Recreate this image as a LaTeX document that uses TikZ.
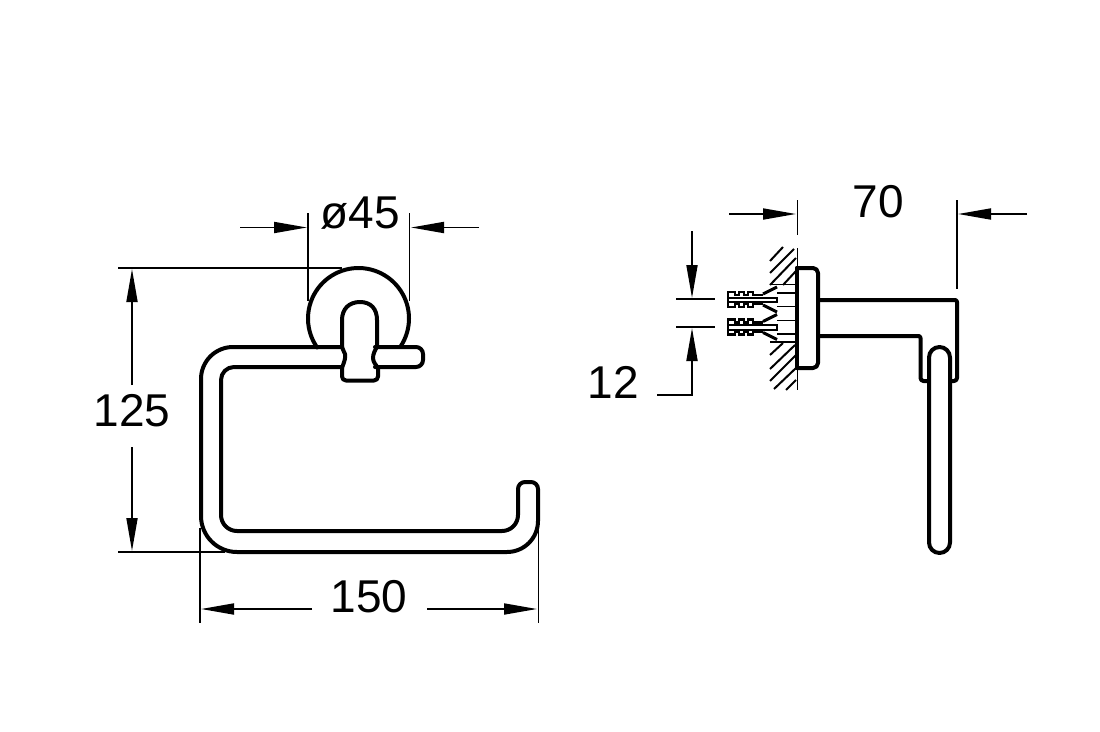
\documentclass[tikz,border=0pt]{standalone}
\usepackage{fontspec}
\setmainfont{Liberation Sans}
\usetikzlibrary{arrows.meta}
\tikzset{
  profile/.style={line width=4pt,line join=round,line cap=round},
  dimline/.style={line width=1.8pt},
  thinpart/.style={line width=1.8pt},
  hatchline/.style={line width=2pt},
  dimarrow/.style={dimline,-{Triangle[length=33pt,width=11pt]}},
  dimtext/.style={inner sep=0pt,font=\fontsize{46}{46}\selectfont},
}
\begin{document}
\begin{tikzpicture}[x=1pt,y=-1pt]
\useasboundingbox (0,0) rectangle (1100,731);
% front view
\draw[profile,domain=-34:215,samples=60,smooth] plot ({358.5+50.5*cos(\x)},{318.5-50.5*sin(\x)});
\draw[profile] (342,347) [rounded corners=32pt] -- (201,347) [rounded corners=36pt] -- (201,552) [rounded corners=31pt] -- (538,552) [rounded corners=7pt] -- (538,482) -- (518,482) [rounded corners=16pt] -- (518,531) -- (221,531) [rounded corners=13pt] -- (221,367) [sharp corners] -- (342,367);
\draw[profile] (375,347) [rounded corners=7pt] -- (423,347) -- (423,367) [sharp corners] -- (375,367);
\draw[profile,rounded corners=4pt] (342,368) -- (342,380.5) -- (378,380.5) -- (378,368);
\draw[profile] (342,368) .. controls (344,362) and (346,358) .. (345,354) .. controls (344,351) and (342,349) .. (342,345) -- (342,320) .. controls (342,309) and (349,302) .. (360,302) .. controls (371,302) and (377,309) .. (377,320) -- (377,347) .. controls (375,350) and (373,354) .. (373,358) .. controls (373,362) and (376,365) .. (378,368);
% side view
\draw[profile] (797,268) -- (797,368);
\draw[profile,rounded corners=5pt] (797,268) -- (818,268) -- (818,368) -- (797,368);
\draw[profile] (818,300) [rounded corners=2pt] -- (957,300) [rounded corners=3pt] -- (957,381) [sharp corners] -- (950,381);
\draw[profile] (818,336) [rounded corners=2pt] -- (920.5,336) [rounded corners=3pt] -- (920.5,381) [sharp corners] -- (929,381);
\draw[profile,fill=white,rounded corners=10.5pt] (929,347) rectangle (950,553);
% wall
\draw[dimline] (797.5,248) -- (797.5,390);
\foreach \a/\b/\c/\d in {770/261/783/247, 770/273/794/249, 770/285/796/258, 783/285/796/271, 770/355/783/343, 770/369/795/345, 770/381/796/355, 774/389/796/368, 786/390/796/380}
  \draw[hatchline] (\a,\b) -- (\c,\d);
\draw[thinpart] (770,284.5) -- (796,284.5);
\draw[thinpart] (770,342) -- (796,342);
% anchors
\foreach \c in {300,327.5} {
  \draw[line width=2.4pt] (728,\c-3) -- (728,\c-8) -- (735,\c-8) -- (735,\c-5) -- (739,\c-5) -- (739,\c-8) -- (744,\c-8) -- (744,\c-5) -- (748,\c-5) -- (748,\c-8) -- (753,\c-8) -- (753,\c-5) -- (763,\c-5);
  \draw[line width=2.4pt] (728,\c+3) -- (728,\c+7) -- (735,\c+7) -- (735,\c+4) -- (739,\c+4) -- (739,\c+7) -- (744,\c+7) -- (744,\c+4) -- (748,\c+4) -- (748,\c+7) -- (753,\c+7) -- (753,\c+4) -- (763,\c+4);
  \draw[line width=3pt] (763,\c-6) -- (777,\c-13);
  \draw[line width=3pt] (763,\c+5) -- (777,\c+12);
  \draw[line width=2pt] (728,\c-2.5) -- (777,\c-2.5) -- (777,\c+2) -- (728,\c+2) -- cycle;
  \draw[thinpart] (777,\c-7) -- (796,\c-7);
  \draw[thinpart] (777,\c+6.5) -- (796,\c+6.5);
}
% dimension: diameter
\coordinate (dA) at (240,227.5); \coordinate (dB) at (307,227.5);
\coordinate (dC) at (479,227.5); \coordinate (dD) at (411,227.5);
\draw[dimline] (308,213) -- (308,301);
\draw[dimline] (409.5,213) -- (409.5,301);
\draw[dimarrow] (dA) -- (dB);
\draw[dimarrow] (dC) -- (dD);
\node[dimtext] (t45) at (360,213) {ø45};
% dimension: 125
\draw[dimline] (118,268) -- (342,268);
\draw[dimline] (118,552) -- (225,552);
\coordinate (hA) at (132,385); \coordinate (hB) at (132,269);
\coordinate (hC) at (132,447); \coordinate (hD) at (132,551);
\draw[dimarrow] (hA) -- (hB);
\draw[dimarrow] (hC) -- (hD);
\node[dimtext] (t125) at (132,411) {125};
% dimension: 150
\draw[dimline] (200,528) -- (200,623);
\draw[dimline] (538.5,528) -- (538.5,623);
\coordinate (wA) at (312,609); \coordinate (wB) at (201,609);
\coordinate (wC) at (427,609); \coordinate (wD) at (537,609);
\draw[dimarrow] (wA) -- (wB);
\draw[dimarrow] (wC) -- (wD);
\node[dimtext] (t150) at (369,597) {150};
% dimension: 70
\draw[dimline] (797.5,200) -- (797.5,235);
\draw[dimline] (957,200) -- (957,289);
\coordinate (sA) at (729,214); \coordinate (sB) at (796,214);
\coordinate (sC) at (1027,214); \coordinate (sD) at (958,214);
\draw[dimarrow] (sA) -- (sB);
\draw[dimarrow] (sC) -- (sD);
\node[dimtext] (t70) at (878,202) {70};
% dimension: 12
\draw[dimline] (676,299) -- (715,299);
\draw[dimline] (676,327) -- (715,327);
\coordinate (mA) at (692,231); \coordinate (mB) at (692,298);
\coordinate (mC) at (657,395); \coordinate (mD) at (692,395); \coordinate (mE) at (692,328);
\draw[dimarrow] (mA) -- (mB);
\draw[dimarrow] (mC) -- (mD) -- (mE);
\node[dimtext] (t12) at (613,382) {12};
\end{tikzpicture}
\end{document}
